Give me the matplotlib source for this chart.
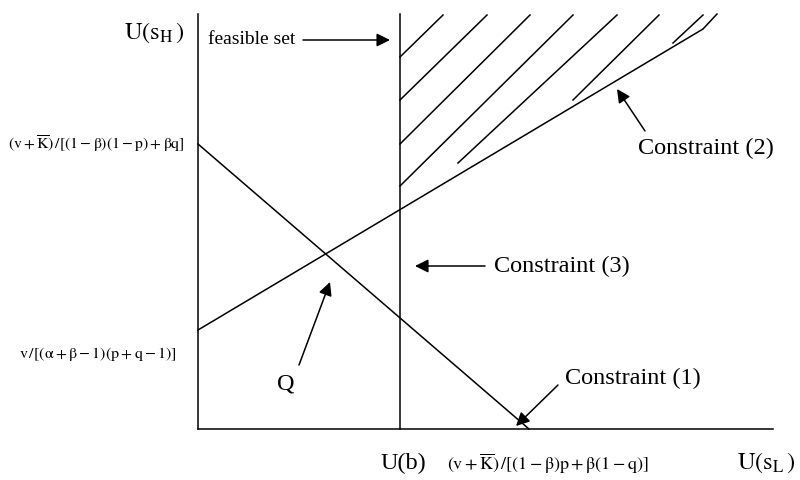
import matplotlib.pyplot as plt

plt.rcParams['font.family'] = ['Liberation Serif', 'DejaVu Serif']
plt.rcParams['mathtext.fontset'] = 'stix'

# diagram units: origin at the corner of the two axes
axis_x_end = 575
axis_y_end = 415
u_b = 202  # Constraint (3): U(b)

c1_x = [0, 331]
c1_y = [285, 0]
c2_x = [0, 505, 519]
c2_y = [99, 400, 415]

# hatching of the feasible set
hatch_x0 = [202, 202, 202, 202, 260, 375, 475]
hatch_y0 = [372, 329, 285, 243, 266, 329, 386]
hatch_x1 = [245, 289, 332, 375, 419, 461, 505]
hatch_y1 = [414, 414, 414, 414, 414, 414, 414]

# (text, tail, tip, text position, font size)
callouts = [
    ("feasible set", (105, 389), (192, 389), (10, 389), 14),
    ("Constraint (2)", (447, 298), (419, 340), (440, 281), 17.5),
    ("Constraint (3)", (287, 163), (217, 163), (296, 163), 17.5),
    ("Constraint (1)", (360, 44), (318, 3), (367, 51), 17.5),
]
q_label = ("Q", (101, 64), (132, 147), (88, 45))

# (text, x of right edge, y, size)
y_tick_labels = [
    (r"$\mathrm{(v+\overline{K})\,/[(1-\beta)(1-p)+\beta q]}$", -13, 285, 11.3),
    (r"$\mathrm{v\,/[(\alpha+\beta-1)(p+q-1)]}$", -21, 75, 11.5),
]
x_tick_labels = [
    (r"$\mathrm{(v+\overline{K})\,/[(1-\beta)p+\beta(1-q)]}$", 350, 13),
]

fig = plt.figure(figsize=(8, 4.8), dpi=100)
ax = fig.add_axes([0, 0, 1, 1])
ax.set_xlim(-198, 602)
ax.set_ylim(-51, 429)
ax.axis("off")

lw = 1.1
ax.plot([0, 0], [0, axis_y_end], color="black", lw=lw)
ax.plot([0, axis_x_end], [0, 0], color="black", lw=lw)
ax.plot([u_b, u_b], [0, axis_y_end], color="black", lw=lw)
ax.plot(c1_x, c1_y, color="black", lw=lw)
ax.plot(c2_x, c2_y, color="black", lw=lw)
for x0, y0, x1, y1 in zip(hatch_x0, hatch_y0, hatch_x1, hatch_y1):
    ax.plot([x0, x1], [y0, y1], color="black", lw=lw)

arrow = dict(arrowstyle="-|>", color="black", lw=lw, mutation_scale=20,
             shrinkA=0, shrinkB=0)
big = 17.5
for text, tail, tip, pos, size in callouts:
    ax.annotate("", xy=tip, xytext=tail, arrowprops=arrow)
    ax.text(pos[0], pos[1], text, fontsize=size, ha="left", va="center")

text, tail, tip, pos = q_label
ax.annotate("", xy=tip, xytext=tail, arrowprops=arrow)
ax.text(pos[0], pos[1], text, fontsize=big, ha="center", va="center")

# axis titles
ax.text(-13, 396, r"$\mathrm{U(s_{H}\,)}$", fontsize=big, ha="right", va="center")
ax.text(205, -34, "U(b)", fontsize=big, ha="center", va="center")
ax.text(568, -34, r"$\mathrm{U(s_{L}\,)}$", fontsize=big, ha="center", va="center")

for text, x, y, size in y_tick_labels:
    ax.text(x, y, text, fontsize=size, ha="right", va="center")
for text, x, size in x_tick_labels:
    ax.text(x, -35, text, fontsize=size, ha="center", va="center")

fig.savefig("out.png", dpi=100)
